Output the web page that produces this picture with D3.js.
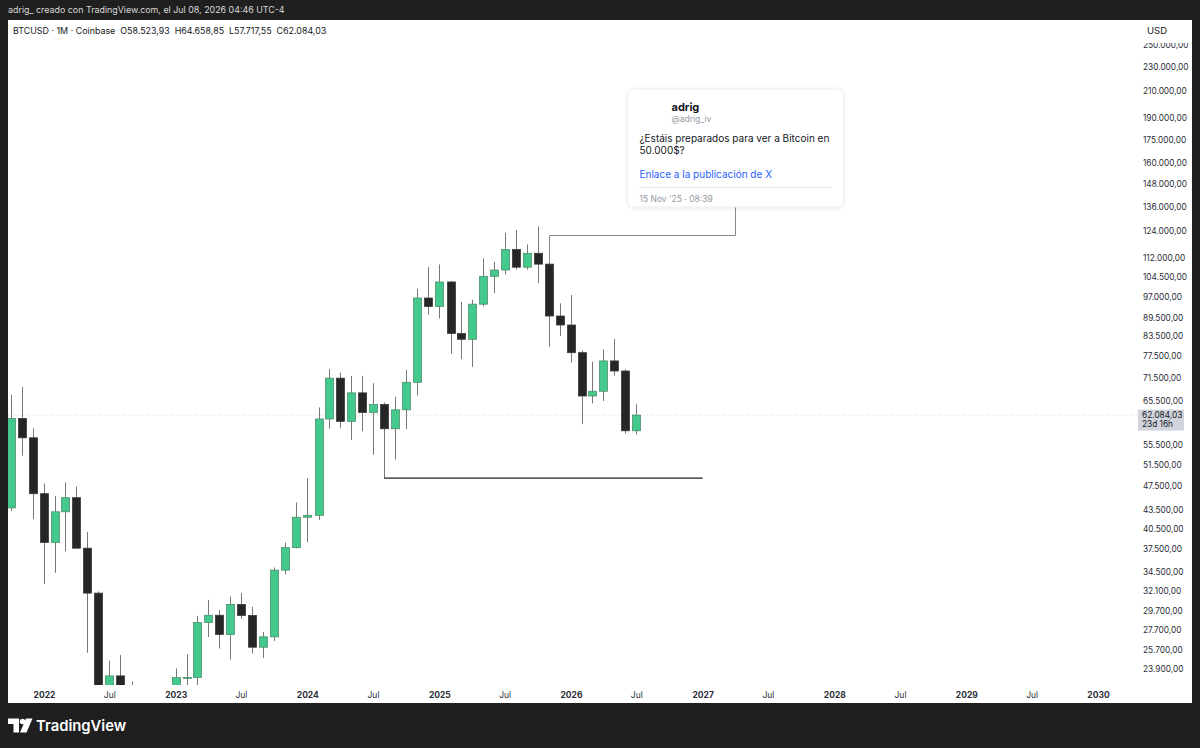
<!DOCTYPE html>
<html>
<head>
<meta charset="utf-8">
<script src="https://cdn.jsdelivr.net/npm/d3@7/dist/d3.min.js"></script>
<style>
  html, body { margin: 0; padding: 0; background: #1f1f1f; }
  svg { display: block; }
  text { font-family: "Inter", "Noto Sans", sans-serif; }
</style>
</head>
<body>
<svg id="chart" width="1200" height="748"></svg>
<script>
// ---------------- DATA ----------------
const months = ["2021-10","2021-11","2021-12",
  "2022-01","2022-02","2022-03","2022-04","2022-05","2022-06","2022-07","2022-08","2022-09","2022-10","2022-11","2022-12",
  "2023-01","2023-02","2023-03","2023-04","2023-05","2023-06","2023-07","2023-08","2023-09","2023-10","2023-11","2023-12",
  "2024-01","2024-02","2024-03","2024-04","2024-05","2024-06","2024-07","2024-08","2024-09","2024-10","2024-11","2024-12",
  "2025-01","2025-02","2025-03","2025-04","2025-05","2025-06","2025-07","2025-08","2025-09","2025-10","2025-11","2025-12",
  "2026-01","2026-02","2026-03","2026-04","2026-05","2026-06","2026-07"];
const opens = [43800,61300,57000,
  46200,38470,43160,45510,37640,31790,19940,23290,20050,19430,20490,17170,
  16540,23140,23150,28470,29250,27220,30470,29230,25940,26970,34660,37720,
  42280,42580,61180,71330,60640,67490,62700,64620,58970,63330,70220,96410,
  93380,102400,84350,82550,94200,104600,107100,115700,108250,114050,109500,90100,
  87100,78500,66700,67900,76100,73270,58523.93];
const highs = [67000,69000,59100,
  47990,45800,48200,47450,40000,31980,24670,25200,22800,20990,21480,18390,
  23960,25250,29180,31000,29820,31390,31800,30200,27480,35000,38430,44700,
  48970,63900,73800,72800,71950,71980,70000,65100,66500,73600,99800,108300,
  109350,102750,95000,95750,111900,110500,123200,124500,117900,126200,110560,94500,
  97500,79100,75900,79500,82640,73740,64658.85];
const lows = [43300,53300,42000,
  32900,34300,37200,37700,25400,17600,18800,19540,18150,18180,15480,16260,
  16500,21350,19570,26940,25810,24750,28860,25330,24900,26550,34100,37600,
  38500,41880,59000,59100,56550,58400,53500,49000,52550,58900,66800,90500,
  89250,78200,76600,74400,93400,98200,105300,107300,107250,102000,80280,83600,
  75600,60000,64900,65460,72000,57900,57717.55];
const closes = [61300,57000,46200,
  38470,43160,45510,37640,31790,19940,23290,20050,19430,20490,17170,16540,
  23140,23150,28470,29250,27220,30470,29230,25940,26970,34660,37720,42280,
  42580,61180,71330,60640,67490,62700,64620,58970,63330,70220,96410,93380,
  102400,84350,82550,94200,104600,107100,115700,108250,114050,109500,90100,87100,
  78500,66700,67900,76100,73270,58523.93,62084.03];

const priceTicks = [250000,230000,210000,190000,175000,160000,148000,136000,124000,112000,104500,97000,
  89500,83500,77500,71500,65500,55500,51500,47500,43500,40500,37500,34500,32100,29700,27700,25700,23900];
const timeTicks = ["2022-01","2022-07","2023-01","2023-07","2024-01","2024-07","2025-01","2025-07",
  "2026-01","2026-07","2027-01","2027-07","2028-01","2028-07","2029-01","2029-07","2030-01"];

const lastPrice = 62084.03;
const countdown = "23d 16h";
const supportPrice = 49000;            // Aug 2024 low
const supportFrom = "2024-08", supportTo = "2027-01";
const noteAnchorDate = "2025-11", noteAnchorPrice = 110560, noteElbowPrice = 122200, noteCardDate = "2027-04";
const headerText = "BTCUSD · 1M · Coinbase";
const ohlcLabels = ["O","H","L","C"];
const titleText = "adrig_ creado con TradingView.com, el Jul 08, 2026 04:46 UTC-4";

// ---------------- SETUP ----------------
const W = 1200, H = 748;
const plotL = 8, plotR = 1138, plotT = 20, plotB = 685;
const parse = d3.utcParse("%Y-%m");
const locale = d3.formatLocale({decimal: ",", thousands: ".", grouping: [3], currency: ["", "$"]});
const fmt = locale.format(",.2f");

const x = d3.scaleUtc().domain([parse("2022-01"), parse("2030-01")]).range([44, 1098]);
const y = d3.scaleLog().domain([22505, 274160]).range([plotB, plotT]);

const data = months.map((m, i) => ({d: parse(m), o: opens[i], h: highs[i], l: lows[i], c: closes[i]}));

const svg = d3.select("#chart");
svg.append("rect").attr("width", W).attr("height", H).attr("fill", "#1f1f1f");
svg.append("rect").attr("x", 8).attr("y", 20).attr("width", 1184).attr("height", 683).attr("fill", "#ffffff");

// title bar
svg.append("text").attr("x", 8).attr("y", 10).attr("dy", "0.35em")
  .attr("fill", "#d9d9d9").attr("font-size", 8.9).text(titleText);

// clip
svg.append("defs").append("clipPath").attr("id", "plotclip")
  .append("rect").attr("x", plotL).attr("y", plotT).attr("width", plotR - plotL).attr("height", plotB - plotT);
const defs = svg.select("defs");
const flt = defs.append("filter").attr("id", "shadow").attr("x", "-10%").attr("y", "-10%").attr("width", "120%").attr("height", "130%");
flt.append("feDropShadow").attr("dx", 0).attr("dy", 1).attr("stdDeviation", 2).attr("flood-color", "#000").attr("flood-opacity", 0.08);

const plot = svg.append("g").attr("clip-path", "url(#plotclip)");

// last price dotted line
plot.append("line").attr("x1", plotL).attr("x2", plotR)
  .attr("y1", y(lastPrice)).attr("y2", y(lastPrice))
  .attr("stroke", "#d6d6d6").attr("stroke-width", 1).attr("stroke-dasharray", "1,2");

// candles
const bw = 8;
const cg = plot.append("g").selectAll("g").data(data).join("g");
cg.append("line")
  .attr("x1", d => Math.round(x(d.d)) + 0.5).attr("x2", d => Math.round(x(d.d)) + 0.5)
  .attr("y1", d => y(d.h)).attr("y2", d => y(d.l))
  .attr("stroke", "#787878").attr("stroke-width", 1);
cg.append("rect")
  .attr("x", d => Math.round(x(d.d)) + 0.5 - bw / 2)
  .attr("y", d => y(Math.max(d.o, d.c)))
  .attr("width", bw)
  .attr("height", d => Math.max(1, Math.abs(y(d.o) - y(d.c))))
  .attr("fill", d => d.c >= d.o ? "#43c98b" : "#262626")
  .attr("stroke", d => d.c >= d.o ? "#4f8f6f" : "#3a3a3a")
  .attr("stroke-width", 0.8);

// support line
plot.append("line")
  .attr("x1", x(parse(supportFrom))).attr("x2", x(parse(supportTo)))
  .attr("y1", y(supportPrice)).attr("y2", y(supportPrice))
  .attr("stroke", "#1f1f1f").attr("stroke-width", 1.2);

// note connector
const ax = Math.round(x(parse(noteAnchorDate))) + 0.5;
const cx = Math.round(x(parse(noteCardDate))) + 0.5;
const cardW = 216, cardH = 118, cardTop = 89;
const cardL = cx - cardW / 2;
plot.append("path")
  .attr("d", `M${ax},${y(noteAnchorPrice)}V${Math.round(y(noteElbowPrice)) + 0.5}H${cx}V${cardTop + cardH}`)
  .attr("fill", "none").attr("stroke", "#8a8a8a").attr("stroke-width", 1);

// card
const card = svg.append("g");
card.append("rect").attr("x", cardL).attr("y", cardTop).attr("width", cardW).attr("height", cardH)
  .attr("rx", 6).attr("fill", "#ffffff").attr("stroke", "#eceef2").attr("filter", "url(#shadow)");
card.append("text").attr("x", cardL + 44).attr("y", 107).attr("dy", "0.35em")
  .attr("font-size", 11).attr("font-weight", 700).attr("fill", "#131722").text("adrig");
card.append("text").attr("x", cardL + 44).attr("y", 119).attr("dy", "0.35em")
  .attr("font-size", 8.5).attr("fill", "#9598a1").text("@adrig_iv");
card.append("text").attr("x", cardL + 12).attr("y", 138).attr("dy", "0.35em")
  .attr("font-size", 10).attr("fill", "#131722").text("¿Estáis preparados para ver a Bitcoin en");
card.append("text").attr("x", cardL + 12).attr("y", 150).attr("dy", "0.35em")
  .attr("font-size", 10).attr("fill", "#131722").text("50.000$?");
card.append("text").attr("x", cardL + 12).attr("y", 174).attr("dy", "0.35em")
  .attr("font-size", 10).attr("fill", "#2962ff").text("Enlace a la publicación de X");
card.append("line").attr("x1", cardL + 12).attr("x2", cardL + cardW - 12)
  .attr("y1", 187.5).attr("y2", 187.5).attr("stroke", "#e6e8ee");
card.append("text").attr("x", cardL + 12).attr("y", 199).attr("dy", "0.35em")
  .attr("font-size", 8.5).attr("fill", "#9598a1").text("15 Nov '25 · 08:39");

// header legend
const last = data[data.length - 1];
const hdr = svg.append("text").attr("x", 13).attr("y", 31).attr("dy", "0.35em")
  .attr("font-size", 8.9).attr("fill", "#131722");
hdr.append("tspan").text(headerText);
[last.o, last.h, last.l, last.c].forEach((v, i) => {
  hdr.append("tspan").attr("dx", 5).text(ohlcLabels[i] + fmt(v));
});

// price axis
const yAxis = d3.axisRight(y).tickValues(priceTicks).tickFormat(fmt).tickSize(0).tickPadding(0);
const ya = svg.append("g").attr("transform", `translate(1143,0)`).call(yAxis);
ya.select(".domain").remove();
ya.selectAll("text").attr("font-size", 8.3).attr("fill", "#2a2e39").attr("font-family", "Inter, sans-serif");

// USD header box
svg.append("rect").attr("x", plotR).attr("y", 20).attr("width", 54).attr("height", 23).attr("fill", "#ffffff");
svg.append("text").attr("x", 1147).attr("y", 31).attr("dy", "0.35em")
  .attr("font-size", 9.5).attr("fill", "#131722").text("USD");

// last price label
const ly = y(lastPrice);
svg.append("rect").attr("x", plotR).attr("y", ly - 5.5).attr("width", 46).attr("height", 21).attr("fill", "#d1d4dc");
svg.append("text").attr("x", 1142).attr("y", ly).attr("dy", "0.35em")
  .attr("font-size", 8.3).attr("fill", "#131722").text(fmt(lastPrice));
svg.append("text").attr("x", 1142).attr("y", ly + 9.5).attr("dy", "0.35em")
  .attr("font-size", 8.3).attr("fill", "#131722").text(countdown);

// time axis
const xAxis = d3.axisBottom(x).tickValues(timeTicks.map(parse))
  .tickFormat(d => d.getUTCMonth() === 0 ? String(d.getUTCFullYear()) : "Jul").tickSize(0).tickPadding(0);
const xa = svg.append("g").attr("transform", `translate(0,692)`).call(xAxis);
xa.select(".domain").remove();
xa.selectAll("text").attr("font-size", 8.5).attr("fill", "#2a2e39").attr("font-family", "Inter, sans-serif")
  .attr("font-weight", d => d.getUTCMonth() === 0 ? 700 : 400);

// TradingView logo
const logo = svg.append("g").attr("fill", "#ffffff");
logo.append("path").attr("d", "M8,718.5h11v14h-5.5v-8.5h-5.5z");
logo.append("circle").attr("cx", 22.5).attr("cy", 721.5).attr("r", 2.8);
logo.append("path").attr("d", "M26,718.5h6.5l-6,14h-6.5z");
svg.append("text").attr("x", 36).attr("y", 725.5).attr("dy", "0.35em")
  .attr("font-size", 14.8).attr("font-weight", 600).attr("fill", "#ffffff").text("TradingView");
</script>
</body>
</html>
